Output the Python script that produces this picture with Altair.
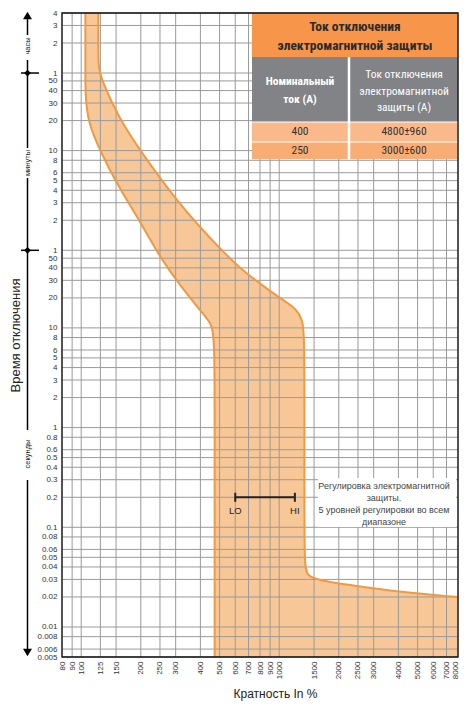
import json
import altair as alt
import pandas as pd

# ---------------- data ----------------
x_ticks = [80, 90, 100, 125, 150, 200, 250, 300, 400, 500, 600, 700, 800, 900,
           1000, 1500, 2000, 2500, 3000, 4000, 5000, 6000, 7000, 8000]

# time ticks in seconds, labels as printed (hours / minutes / seconds)
y_ticks = [14400, 10800, 7200, 3600, 3000, 2400, 1800, 1200, 600, 480, 360, 300,
           240, 180, 120, 60, 50, 40, 30, 20, 10, 8, 6, 5, 4, 3, 2, 1, 0.8, 0.6,
           0.5, 0.4, 0.3, 0.2, 0.1, 0.08, 0.06, 0.05, 0.04, 0.03, 0.02, 0.01,
           0.008, 0.006, 0.005]
y_labels = ["4", "3", "2", "1", "50", "40", "30", "20", "10", "8", "6", "5", "4",
            "3", "2", "1", "50", "40", "30", "20", "10", "8", "6", "5", "4", "3",
            "2", "1", "0.8", "0.6", "0.5", "0.4", "0.3", "0.2", "0.1", "0.08",
            "0.06", "0.05", "0.04", "0.03", "0.02", "0.01", "0.008", "0.006",
            "0.005"]

# lower (left) boundary of the tripping band: time [s] vs multiple In [%]
left_time = [14400, 7200, 3600, 2100, 1150, 610, 260, 118, 51, 27, 14, 11, 8, 1, 0.1, 0.005]
left_pct = [105, 105, 105, 105, 108.5, 124, 154, 198, 250, 315, 410, 455, 472, 472, 472, 472]

# upper (right) boundary of the tripping band
right_time = [14400, 7200, 4100, 3050, 1300, 570, 190, 103, 63, 40, 28, 20, 15.8, 12,
              9, 1, 0.2, 0.04, 0.033, 0.0296, 0.0258, 0.0225, 0.02]
right_pct = [122, 122, 122, 127, 154, 202, 303, 397, 500, 631, 795, 1003, 1217, 1310,
             1341, 1341, 1341, 1341, 1388, 1535, 2443, 4036, 8000]

lohi_pct = [600, 1200]
lohi_labels = ["LO", "HI"]
lohi_time = [0.2, 0.2]

unit_marks = [3600, 60]  # 1 hour, 1 minute

table_title = ["Ток отключения", "электромагнитной защиты"]
table_head_left = ["Номинальный", "ток (A)"]
table_head_right = ["Ток отключения", "электромагнитной", "защиты (A)"]
table_rated = ["400", "250"]
table_trip = ["4800±960", "3000±600"]

note_lines = ["Регулировка электромагнитной", "защиты.",
              "5 уровней регулировки во всем", "диапазоне"]

# ---------------- styles ----------------
FONT = "Liberation Sans, Arial, sans-serif"
NARROW = "Liberation Sans Narrow, Roboto Condensed, Roboto, sans-serif"
FILL = "#F8C797"
STROKE = "#EE9A42"
GRID = "#9a9a9a"
W, H = 396, 644

xscale = alt.Scale(type="log", domain=[80, 8000], nice=False)
yscale = alt.Scale(type="log", domain=[0.005, 14400], nice=False)

label_expr = "{}[indexof({}, datum.value)]".format(json.dumps(y_labels), json.dumps(y_ticks))

xaxis = alt.Axis(values=x_ticks, format="d", labelAngle=-90, labelFontSize=8, labelFont=FONT,
                 labelColor="#333", ticks=False, grid=False, domain=False,
                 labelPadding=4, labelOverlap=False, labelFlush=False,
                 labelOffset={"condition": {"test": "datum.value >= 8000", "value": -2.5},
                              "value": 0},
                 title="Кратность In %", titleFont=FONT, titleFontSize=12,
                 titleFontWeight="normal", titleColor="#222", titleX=213, titleY=36,
                 titleAlign="center", titleBaseline="middle")
yaxis = alt.Axis(values=y_ticks, labelExpr=label_expr, labelFontSize=8, labelFont=FONT,
                 labelColor="#333", ticks=False, grid=False, domain=False,
                 labelPadding=5, labelOverlap=False, labelFlush=False,
                 title="Время отключения", titleFont=FONT, titleFontSize=13,
                 titleFontWeight="normal", titleColor="#222", titleX=-47, titleY=322,
                 titleAlign="center", titleBaseline="middle")


def X(field):
    return alt.X(field, scale=xscale, axis=xaxis)


def Y(field):
    return alt.Y(field, scale=yscale, axis=yaxis)


left_df = pd.DataFrame({"t": left_time, "x": left_pct, "i": range(len(left_time))})
right_df = pd.DataFrame({"t": right_time, "x": right_pct, "i": range(len(right_time))})
one = pd.DataFrame({"a": [0]})

band = alt.Chart(left_df).mark_area(orient="horizontal", color=FILL, interpolate="basis").encode(
    y=Y("t:Q"), x=X("x:Q"), x2=alt.datum(8000))
cut = alt.Chart(right_df).mark_area(orient="horizontal", color="white", interpolate="basis").encode(
    y=Y("t:Q"), x=X("x:Q"), x2=alt.datum(8000))

xgrid = alt.Chart(pd.DataFrame({"x": x_ticks})).mark_rule(color=GRID, strokeWidth=1).encode(
    x=X("x:Q"))
ygrid = alt.Chart(pd.DataFrame({"t": y_ticks})).mark_rule(color=GRID, strokeWidth=1).encode(
    y=Y("t:Q"))


def boundary(df):
    return alt.Chart(df).mark_line(color=STROKE, strokeWidth=2, interpolate="basis").encode(
        y=Y("t:Q"), x=X("x:Q"), order="i:Q")


lohi_df = pd.DataFrame({"x": lohi_pct, "t": lohi_time, "lab": lohi_labels})
lohi_line = alt.Chart(lohi_df).mark_line(color="#222", strokeWidth=2).encode(
    x=X("x:Q"), y=Y("t:Q"))
lohi_ends = alt.Chart(lohi_df).mark_point(shape="M0,-1V1", size=81, color="#222",
                                          strokeWidth=2, filled=False, opacity=1).encode(
    x=X("x:Q"), y=Y("t:Q"))
lohi_text = alt.Chart(lohi_df).mark_text(dy=14, fontSize=9.5, font=FONT, color="#222").encode(
    x=X("x:Q"), y=Y("t:Q"), text="lab:N")


def rect(x0, x1, y0, y1, fill):
    return alt.Chart(one).mark_rect(color=fill).encode(
        x=alt.value(x0), x2=alt.value(x1), y=alt.value(y0), y2=alt.value(y1))


def rule(x0, x1, y0, y1, color, w):
    return alt.Chart(one).mark_rule(color=color, strokeWidth=w).encode(
        x=alt.value(x0), x2=alt.value(x1), y=alt.value(y0), y2=alt.value(y1))


def text(t, x, y, size, color, weight="normal", font=FONT, lh=None, angle=0):
    # y is the centre of the first line
    kw = dict(text=t, fontSize=size, color=color, fontWeight=weight, font=font,
              align="center", baseline="middle")
    if lh:
        kw["lineHeight"] = lh
    if angle:
        kw["angle"] = angle
    return alt.Chart(one).mark_text(**kw).encode(x=alt.value(x), y=alt.value(y))


note_box = rect(256, 394, 465, 514, "white")
note_text = text(note_lines, 322, 473, 9, "#444", lh=12)

table = [
    rect(190, W, 0, 44, "#F7964B"),
    rect(190, W, 44, 109, "#818386"),
    rect(190, W, 109, 129, "#FAB98A"),
    rect(190, W, 129, 146, "#F8AD75"),
    rule(287, 287, 44, 146, "white", 2.5),
    rule(190, W, 109, 109, "white", 1),
    rule(190, W, 129, 129, "white", 1),
    text(table_title, 293, 14, 13.5, "#2b2b2b", "bold", NARROW, 19),
    text(table_head_left, 238, 69, 11.5, "white", "bold", NARROW, 18),
    text(table_head_right, 342, 62, 11.5, "white", "normal", NARROW, 16.5),
    text(table_rated[0], 238, 119, 11.5, "#333", "normal", NARROW),
    text(table_trip[0], 342, 119, 11.5, "#333", "normal", NARROW),
    text(table_rated[1], 238, 137.5, 11.5, "#333", "normal", NARROW),
    text(table_trip[1], 342, 137.5, 11.5, "#333", "normal", NARROW),
]

# left time-unit scale (arrow with hour / minute / second sections)
AX = -34.5
units_df = pd.DataFrame({"t": unit_marks})
deco = [
    rule(AX, AX, 4, 22, "black", 1.5),
    rule(AX, AX, 47, 135, "black", 1.5),
    rule(AX, AX, 165, 417, "black", 1.5),
    rule(AX, AX, 467, 638, "black", 1.5),
    alt.Chart(one).mark_point(shape="triangle-up", filled=True, size=80, color="black",
                              opacity=1).encode(x=alt.value(AX), y=alt.value(2.5)),
    alt.Chart(one).mark_point(shape="triangle-down", filled=True, size=80, color="black",
                              opacity=1).encode(x=alt.value(AX), y=alt.value(639.5)),
    alt.Chart(units_df).mark_point(shape="diamond", filled=True, size=45, color="black",
                                   opacity=1).encode(x=alt.value(AX), y=Y("t:Q")),
    alt.Chart(units_df).mark_rule(color="black", strokeWidth=1.5).encode(
        x=alt.value(-41), x2=alt.value(-23), y=Y("t:Q")),
    text("часы", AX, 33, 7.5, "#222", angle=270),
    text("минуты", AX, 150, 7.5, "#222", angle=270),
    text("секунды", AX, 441, 7.5, "#222", angle=270),
]

frame = alt.Chart(one).mark_rect(fillOpacity=0, stroke="#111", strokeWidth=1.3).encode(
    x=alt.value(0), x2=alt.value(W), y=alt.value(0), y2=alt.value(H))

chart = alt.layer(
    band, cut, xgrid, ygrid, boundary(left_df), boundary(right_df),
    lohi_line, lohi_ends, lohi_text, note_box, note_text, *table, *deco, frame
).properties(
    width=W, height=H,
    autosize=alt.AutoSizeParams(type="none"),
    padding={"left": 54, "top": 5, "right": 2, "bottom": 45},
).configure_view(stroke=None)

chart.save("out.html", embed_options={"renderer": "svg", "actions": False})
